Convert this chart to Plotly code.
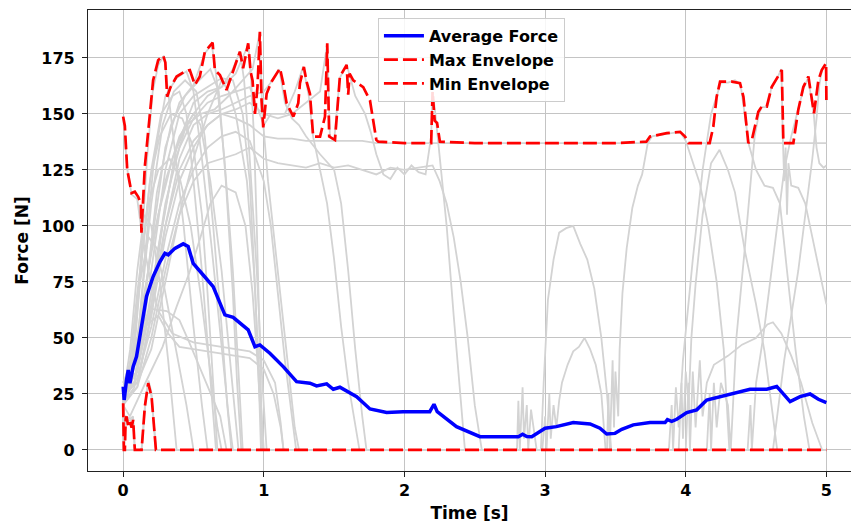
import plotly.graph_objects as go

# ---------------- individual trials (t [s], force [N]) ----------------
trial_01 = [(0,148),(0.03,125),(0.06,114),(0.1,112),(0.13,98),(0.18,80),(0.25,62),(0.35,52),(0.5,48),(0.7,46),(0.9,44),(1.0,40),(1.08,30),(1.12,12),(1.14,0),(5.0,0)]
trial_02 = [(0,24),(0.06,35),(0.12,80),(0.17,130),(0.21,160),(0.25,172),(0.29,176),(0.31,165),(0.36,140),(0.43,100),(0.5,55),(0.56,20),(0.6,0),(5.0,0)]
trial_03 = [(0,26),(0.05,28),(0.1,45),(0.16,90),(0.22,130),(0.3,158),(0.38,166),(0.45,169),(0.5,160),(0.56,130),(0.63,90),(0.7,45),(0.75,15),(0.78,0),(5.0,0)]
trial_04 = [(0,22),(0.08,30),(0.14,60),(0.22,100),(0.3,135),(0.4,155),(0.5,163),(0.58,177),(0.63,181),(0.66,168),(0.72,130),(0.78,80),(0.82,35),(0.85,0),(5.0,0)]
trial_05 = [(0,28),(0.06,32),(0.12,55),(0.2,90),(0.3,120),(0.4,140),(0.5,150),(0.6,158),(0.7,162),(0.78,170),(0.83,178),(0.86,165),(0.9,130),(0.95,80),(0.99,30),(1.02,0),(5.0,0)]
trial_06 = [(0,30),(0.08,40),(0.15,70),(0.25,105),(0.35,130),(0.45,145),(0.55,150),(0.65,152),(0.75,158),(0.85,165),(0.92,170),(0.97,186),(0.99,150),(1.03,120),(1.1,80),(1.17,40),(1.22,10),(1.25,0),(5.0,0)]
trial_07 = [(0,20),(0.1,28),(0.18,55),(0.28,100),(0.38,135),(0.5,155),(0.6,160),(0.7,162),(0.8,168),(0.89,181),(0.91,165),(0.93,140),(0.95,100),(0.97,50),(0.99,0),(5.0,0)]
trial_08 = [(0,25),(0.1,30),(0.2,60),(0.3,100),(0.4,130),(0.5,145),(0.6,150),(0.7,152),(0.8,155),(0.9,158),(1.0,160),(1.05,164),(1.11,170),(1.15,155),(1.2,148),(1.25,145),(1.3,140),(1.4,132),(1.5,125),(1.55,110),(1.6,80),(1.65,45),(1.7,15),(1.73,0),(5.0,0)]
trial_09 = [(0,27),(0.1,35),(0.2,70),(0.3,110),(0.4,135),(0.5,148),(0.6,155),(0.7,158),(0.8,160),(0.9,162),(1.0,145),(1.05,150),(1.15,150),(1.22,160),(1.28,171),(1.32,158),(1.35,140),(1.4,125),(1.45,110),(1.5,85),(1.55,55),(1.6,30),(1.65,10),(1.68,0),(5.0,0)]
trial_10 = [(0,25),(0.1,30),(0.2,60),(0.3,95),(0.4,120),(0.5,135),(0.6,145),(0.7,150),(0.8,152),(0.9,155),(1.0,150),(1.1,148),(1.2,150),(1.3,155),(1.4,160),(1.45,181),(1.47,140),(1.5,138),(1.54,166),(1.59,172),(1.65,158),(1.72,150),(1.76,142),(1.8,132),(1.85,123),(1.9,121),(1.95,126),(2.0,123),(2.05,127),(2.1,124),(2.15,123),(2.19,140),(2.2,160),(2.22,150),(2.25,130),(2.3,100),(2.35,60),(2.4,20),(2.43,0),(5.0,0)]
trial_11 = [(0,22),(0.1,28),(0.2,50),(0.3,80),(0.4,105),(0.5,120),(0.6,128),(0.7,130),(0.8,132),(0.9,135),(1.0,130),(1.1,128),(1.2,127),(1.3,126),(1.4,128),(1.5,126),(1.6,127),(1.7,125),(1.8,123),(1.9,126),(2.0,125),(2.1,126),(2.2,127),(2.25,120),(2.3,110),(2.35,95),(2.4,75),(2.45,50),(2.5,20),(2.55,0),(5.0,0)]
trial_12 = [(0,25),(0.1,35),(0.2,65),(0.3,100),(0.4,125),(0.5,138),(0.6,145),(0.7,150),(0.8,148),(0.9,145),(1.0,140),(1.1,139),(1.2,139),(1.3,138),(1.4,138),(1.5,138),(1.7,138),(1.8,137),(2.0,137),(2.5,137),(3.0,137),(3.5,137),(4.0,137),(4.5,137),(5.0,137)]
trial_13 = [(0,24),(0.05,40),(0.1,70),(0.18,110),(0.25,125),(0.33,130),(0.4,122),(0.48,100),(0.55,70),(0.62,35),(0.67,10),(0.7,0),(5.0,0)]
trial_14 = [(0,26),(0.08,30),(0.15,50),(0.25,90),(0.35,125),(0.45,145),(0.5,150),(0.55,145),(0.62,120),(0.7,80),(0.76,40),(0.82,0),(5.0,0)]
trial_15 = [(0,23),(0.05,35),(0.1,50),(0.19,63),(0.31,62),(0.4,58),(0.47,48),(0.57,33),(0.69,15),(0.735,0),(5.0,0)]
trial_16 = [(0,30),(0.05,38),(0.15,55),(0.25,60),(0.32,52),(0.4,46),(0.5,45),(0.7,43),(0.9,41),(1.0,36),(1.07,25),(1.12,10),(1.14,0),(5.0,0)]
trial_17 = [(0,20),(0.048,15),(0.166,31),(0.28,46),(0.38,64),(0.47,79),(0.55,95),(0.62,110),(0.7,118),(0.8,115),(0.87,100),(0.92,70),(0.96,35),(0.99,0),(5.0,0)]
trial_18 = [(0,28),(0.1,30),(0.2,45),(0.3,75),(0.4,105),(0.5,130),(0.6,150),(0.7,165),(0.75,160),(0.8,150),(0.88,120),(0.93,80),(0.97,30),(1.0,0),(5.0,0)]
trial_19 = [(0,25),(0.08,45),(0.14,90),(0.2,125),(0.27,150),(0.35,158),(0.4,160),(0.45,150),(0.5,120),(0.56,80),(0.61,40),(0.66,0),(5.0,0)]
trial_20 = [(0,24),(0.1,32),(0.2,55),(0.3,85),(0.4,110),(0.5,125),(0.6,135),(0.7,140),(0.8,142),(0.9,138),(1.0,120),(1.05,100),(1.1,70),(1.15,40),(1.2,15),(1.23,0),(5.0,0)]
trial_21 = [(0,22),(0.005,0),(0.018,14),(0.047,13),(0.071,14),(0.083,0),(0.131,0),(0.154,19),(0.178,30),(0.202,24),(0.233,0),(2.8,0),(2.81,22),(2.82,0),(2.84,28),(2.85,5),(2.87,20),(2.88,0),(2.9,18),(2.92,8),(2.94,0),(2.97,0),(2.99,30),(3.02,67),(3.06,85),(3.1,97),(3.15,99),(3.2,100),(3.25,92),(3.3,85),(3.35,72),(3.4,50),(3.44,25),(3.47,0),(5.0,0)]
trial_22 = [(0,24),(0.005,0),(0.02,15),(0.05,14),(0.07,15),(0.083,0),(0.131,0),(0.16,22),(0.18,31),(0.2,26),(0.233,0),(2.98,0),(3.0,15),(3.01,0),(3.03,25),(3.04,5),(3.06,20),(3.08,10),(3.1,22),(3.12,30),(3.16,38),(3.2,44),(3.24,46),(3.28,50),(3.32,45),(3.36,38),(3.4,25),(3.43,0),(5.0,0)]
trial_23 = [(0,25),(0.005,0),(0.083,0),(0.131,0),(0.233,0),(3.44,0),(3.45,25),(3.46,0),(3.48,40),(3.49,10),(3.5,35),(3.52,15),(3.53,45),(3.55,70),(3.58,90),(3.62,108),(3.66,118),(3.69,123),(3.73,137),(3.76,140),(3.85,141),(3.96,142),(4.0,138),(4.05,128),(4.1,119),(4.16,100),(4.22,75),(4.27,45),(4.31,0),(5.0,0)]
trial_24 = [(0,26),(0.005,0),(0.233,0),(3.95,0),(3.97,30),(3.98,5),(4.0,35),(4.02,20),(4.04,50),(4.07,74),(4.12,105),(4.18,128),(4.24,134),(4.3,125),(4.35,115),(4.42,89),(4.5,65),(4.56,44),(4.62,15),(4.65,0),(5.0,0)]
trial_25 = [(0,23),(0.005,0),(0.233,0),(3.88,0),(3.9,20),(3.91,0),(3.93,28),(3.95,10),(3.98,40),(4.05,85),(4.12,125),(4.18,150),(4.22,158),(4.25,164),(4.3,164),(4.35,165),(4.39,163),(4.42,150),(4.45,136),(4.5,125),(4.56,118),(4.62,117),(4.67,110),(4.72,80),(4.78,45),(4.84,15),(4.88,0),(5.0,0)]
trial_26 = [(0,27),(0.005,0),(0.233,0),(4.15,0),(4.17,25),(4.18,0),(4.2,30),(4.22,10),(4.25,30),(4.3,20),(4.32,0),(4.36,50),(4.42,90),(4.47,125),(4.49,140),(4.52,150),(4.54,153),(4.58,153),(4.61,162),(4.65,166),(4.68,170),(4.69,140),(4.7,120),(4.71,135),(4.72,105),(4.73,128),(4.75,118),(4.8,117),(4.85,110),(4.9,95),(4.95,80),(5.0,65)]
trial_27 = [(0,24),(0.005,0),(0.233,0),(4.44,0),(4.46,20),(4.47,0),(4.5,30),(4.55,50),(4.6,75),(4.65,100),(4.7,125),(4.75,140),(4.8,152),(4.84,162),(4.87,166),(4.89,158),(4.91,150),(4.93,135),(4.95,128),(4.98,126),(5.0,127)]
trial_28 = [(0,25),(0.005,0),(0.233,0),(4.62,0),(4.66,20),(4.7,40),(4.75,60),(4.8,80),(4.85,105),(4.9,130),(4.93,148),(4.95,163),(4.97,170),(4.995,172),(5.0,156)]
trial_29 = [(0,22),(0.005,0),(0.233,0),(4.0,0),(4.02,30),(4.03,0),(4.05,35),(4.07,10),(4.1,40),(4.12,15),(4.15,30),(4.2,38),(4.3,42),(4.4,47),(4.5,50),(4.58,56),(4.62,57),(4.68,52),(4.75,42),(4.82,30),(4.9,12),(4.97,0),(5.0,0)]
trial_30 = [(0,25),(0.06,30),(0.12,60),(0.2,110),(0.28,145),(0.36,160),(0.44,165),(0.52,160),(0.58,140),(0.64,100),(0.7,55),(0.74,20),(0.77,0),(5.0,0)]
trial_31 = [(0,21),(0.08,28),(0.16,70),(0.24,115),(0.34,145),(0.44,158),(0.54,165),(0.62,170),(0.68,160),(0.73,120),(0.78,70),(0.81,30),(0.84,0),(5.0,0)]
trial_32 = [(0,29),(0.1,35),(0.2,80),(0.3,125),(0.4,150),(0.5,158),(0.6,162),(0.7,166),(0.78,165),(0.85,150),(0.9,120),(0.94,70),(0.97,20),(0.98,0),(5.0,0)]
trial_33 = [(0,26),(0.07,40),(0.13,85),(0.19,120),(0.26,140),(0.34,150),(0.42,148),(0.5,135),(0.56,105),(0.6,70),(0.64,30),(0.67,0),(5.0,0)]
trial_34 = [(0,24),(0.05,45),(0.1,80),(0.15,105),(0.2,100),(0.26,75),(0.32,40),(0.36,15),(0.38,0),(5.0,0)]
trial_35 = [(0,27),(0.06,40),(0.12,75),(0.18,95),(0.24,90),(0.3,70),(0.38,45),(0.45,20),(0.5,0),(5.0,0)]

trials = [trial_01, trial_02, trial_03, trial_04, trial_05, trial_06, trial_07, trial_08,
          trial_09, trial_10, trial_11, trial_12, trial_13, trial_14, trial_15, trial_16,
          trial_17, trial_18, trial_19, trial_20, trial_21, trial_22, trial_23, trial_24,
          trial_25, trial_26, trial_27, trial_28, trial_29, trial_30, trial_31, trial_32,
          trial_33, trial_34, trial_35]

# ---------------- average force ----------------
avg_t = [0,0.007,0.024,0.036,0.048,0.071,0.095,0.131,0.166,0.213,0.261,0.297,0.32,0.368,0.427,0.462,0.498,0.569,0.64,0.723,0.782,0.889,0.937,0.972,1.043,1.138,1.233,1.328,1.375,1.447,1.494,1.541,1.66,1.755,1.873,1.99,2.18,2.21,2.233,2.37,2.537,2.81,2.84,2.87,2.905,3.0,3.08,3.2,3.32,3.39,3.438,3.497,3.545,3.627,3.746,3.853,3.87,3.9,3.936,4.007,4.078,4.149,4.244,4.338,4.457,4.576,4.647,4.672,4.742,4.813,4.884,4.943,5.0]
avg_f = [28.3,22.3,31.3,35.7,29.8,37.2,41.7,56.5,68.5,77.4,84,87.8,87.1,90,92,90.8,83.3,78.1,72.9,60.3,59.2,53.6,46.1,46.9,43.2,37.2,30.5,29.8,28.6,29.5,27.1,28,23.8,18.3,16.7,17.1,17.1,20.4,17.1,10.4,5.9,5.9,7,6,5.9,9.7,10.4,12.2,11.6,9.7,7.1,7.4,9.2,11.2,12.2,12.2,13.5,12.8,13.7,16.7,17.9,22.3,23.8,25.3,27.1,27.1,28.3,26.6,21.6,23.8,25,22.6,21.1]

# ---------------- max envelope ----------------
max_t = [0,0.012,0.029,0.06,0.083,0.107,0.126,0.13,0.154,0.19,0.213,0.249,0.285,0.30,0.313,0.337,0.38,0.44,0.474,0.51,0.545,0.581,0.636,0.652,0.688,0.735,0.795,0.83,0.853,0.889,0.906,0.92,0.937,0.955,0.972,0.984,0.996,1.02,1.055,1.115,1.138,1.162,1.21,1.245,1.257,1.285,1.304,1.328,1.351,1.4,1.435,1.451,1.465,1.506,1.541,1.589,1.60,1.61,1.636,1.707,1.755,1.80,1.814,2.0,2.19,2.2,2.215,2.232,2.252,2.5,3.0,3.5,3.72,3.746,3.865,3.96,3.995,4.02,4.17,4.196,4.22,4.244,4.327,4.386,4.41,4.445,4.47,4.493,4.516,4.54,4.576,4.611,4.647,4.683,4.694,4.765,4.8,4.836,4.872,4.896,4.912,4.943,4.967,4.998,5.0]
max_f = [148.8,144.6,125,114.7,115.3,113,110,97,126.5,151.8,165,174,176,173,157.7,162,166.7,169,169.6,163,166.7,177.8,181.8,169.6,167.4,160.7,171.9,177.8,170.4,181.5,168.9,165,150,162,186.7,156,144,159,164.4,170.4,163.7,154.8,148.8,154.8,163.7,171,164.4,159,139.9,139.9,148.8,181.5,139.9,138.4,166.7,171.9,158.6,168,165,162,156,138.4,137.6,137,137,160,147,146,137.6,137,137,137,137.6,139.9,141.4,142,139.9,137,137,144.3,157.7,164.4,164.4,163.7,157.7,137,138.4,144.3,151,153.3,153.3,162,165.9,169.6,137,137,151.8,162,166.7,157.7,150.3,165,169.6,172.6,156]

# ---------------- min envelope ----------------
min_t = [0,0.005,0.012,0.018,0.024,0.035,0.047,0.06,0.071,0.083,0.131,0.154,0.178,0.202,0.233,5.0]
min_f = [20.8,0,0,14,14.9,11,12.8,10,13.4,0,0,19.3,29.8,23.8,0,0]

FONT = "DejaVu Sans"

fig = go.Figure()
for tr in trials:
    fig.add_trace(go.Scatter(x=[p[0] for p in tr], y=[p[1] for p in tr], mode="lines",
                             line=dict(color="#d3d3d3", width=1.8), showlegend=False,
                             hoverinfo="skip"))
fig.add_trace(go.Scatter(x=avg_t, y=avg_f, mode="lines", name="Average Force",
                         line=dict(color="#0000ff", width=3.5)))
fig.add_trace(go.Scatter(x=max_t, y=max_f, mode="lines", name="Max Envelope",
                         line=dict(color="#ff0000", width=2.7, dash="14px,5px")))
fig.add_trace(go.Scatter(x=min_t, y=min_f, mode="lines", name="Min Envelope",
                         line=dict(color="#ff0000", width=2.7, dash="14px,5px")))

axis_common = dict(showgrid=True, gridcolor="#c4c4c4", gridwidth=1, zeroline=False,
                   showline=True, linecolor="#222222", linewidth=1.2, ticks="outside",
                   ticklen=5, tickwidth=1.2, tickcolor="#222222",
                   tickfont=dict(family=FONT, size=16, color="black", weight="bold"))

fig.update_layout(
    width=851, height=525,
    margin=dict(l=88, r=0, t=10, b=54),
    paper_bgcolor="white", plot_bgcolor="white",
    xaxis=dict(range=[-0.25, 5.175], tickvals=[0, 1, 2, 3, 4, 5], mirror=True,
               title=dict(text="Time [s]", standoff=7,
                          font=dict(family=FONT, size=17, color="black", weight="bold")),
               **axis_common),
    yaxis=dict(range=[-9.4, 196.4], tickvals=[0, 25, 50, 75, 100, 125, 150, 175],
               ticklabelstandoff=4,
               title=dict(text="Force [N]", standoff=8,
                          font=dict(family=FONT, size=17, color="black", weight="bold")),
               **axis_common),
    legend=dict(x=0.38, y=0.983, xanchor="left", yanchor="top", itemwidth=40,
                bgcolor="rgba(255,255,255,0.85)", bordercolor="#cccccc", borderwidth=1,
                font=dict(family=FONT, size=16, color="black", weight="bold")),
    showlegend=True,
)

fig.write_html("out.html")
